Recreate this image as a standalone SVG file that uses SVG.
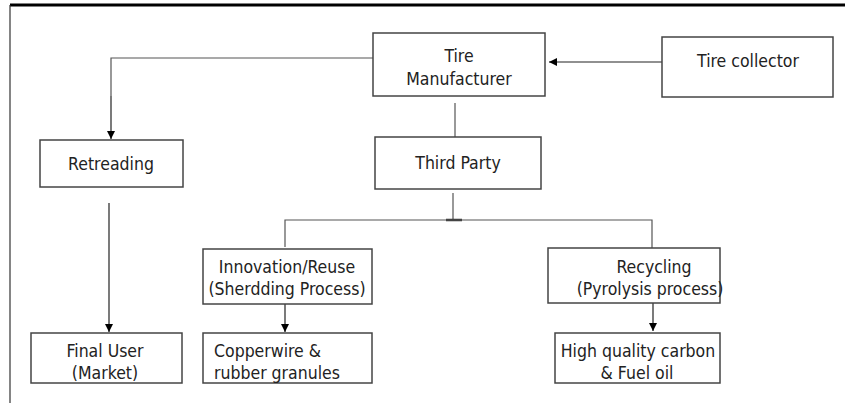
<svg xmlns="http://www.w3.org/2000/svg" width="845" height="403" viewBox="0 0 845 403">
<defs>
<marker id="ah" viewBox="0 0 10 10" refX="10" refY="5" markerWidth="8" markerHeight="8" markerUnits="userSpaceOnUse" orient="auto">
<path d="M0,0 L10,5 L0,10 z" fill="#000"/>
</marker>
<style>
.box{fill:#fff;stroke:#444;stroke-width:1.5}
.t{font-family:"Liberation Sans Narrow","DejaVu Sans Condensed","Liberation Sans",sans-serif;font-size:17.5px;fill:#222;text-anchor:middle}
.ln{fill:none;stroke:#555;stroke-width:1.2}
.ar{fill:none;stroke:#222;stroke-width:1.2;marker-end:url(#ah)}
</style>
</defs>
<rect width="845" height="403" fill="#fff"/>
<g id="frame">
<line x1="10" y1="5" x2="845" y2="5" stroke="#000" stroke-width="3"/>
<line x1="10" y1="5" x2="10" y2="403" stroke="#333" stroke-width="1.2"/>
</g>
<g id="connectors">
<line class="ar" x1="662" y1="62" x2="549" y2="62"/>
<polyline class="ln" points="373,58 111,58 111,96"/>
<line class="ar" x1="111" y1="96" x2="111" y2="139"/>
<line class="ln" x1="455" y1="103" x2="455" y2="137"/>
<line class="ln" x1="453" y1="193" x2="453" y2="220"/>
<line x1="446" y1="220" x2="462" y2="220" stroke="#333" stroke-width="2.5"/>
<polyline class="ln" points="285,247 285,220 652,220 652,248"/>
<line class="ar" x1="109" y1="203" x2="109" y2="332"/>
<line class="ar" x1="285" y1="304" x2="285" y2="332"/>
<line class="ar" x1="653" y1="303" x2="653" y2="331"/>
</g>
<g id="tire-manufacturer">
<rect class="box" x="373" y="33" width="172" height="63"/>
<text class="t" x="459" y="62">Tire</text>
<text class="t" x="459" y="85">Manufacturer</text>
</g>
<g id="tire-collector">
<rect class="box" x="662" y="37" width="171" height="60"/>
<text class="t" x="748" y="67">Tire collector</text>
</g>
<g id="retreading">
<rect class="box" x="40" y="140" width="143" height="47"/>
<text class="t" x="111" y="170">Retreading</text>
</g>
<g id="third-party">
<rect class="box" x="375" y="137" width="166" height="52"/>
<text class="t" x="458" y="169">Third Party</text>
</g>
<g id="innovation">
<rect class="box" x="203" y="249" width="169" height="55"/>
<text class="t" x="287" y="273">Innovation/Reuse</text>
<text class="t" x="287" y="295">(Sherdding Process)</text>
</g>
<g id="recycling">
<rect class="box" x="548" y="248" width="172" height="55"/>
<text class="t" x="654" y="273">Recycling</text>
<text class="t" x="650" y="295">(Pyrolysis process)</text>
</g>
<g id="final-user">
<rect class="box" x="31" y="333" width="151" height="50"/>
<text class="t" x="105" y="357">Final User</text>
<text class="t" x="105" y="379">(Market)</text>
</g>
<g id="copperwire">
<rect class="box" x="203" y="333" width="169" height="50"/>
<text class="t" x="214" y="357" style="text-anchor:start">Copperwire &amp;</text>
<text class="t" x="214" y="379" style="text-anchor:start">rubber granules</text>
</g>
<g id="carbon">
<rect class="box" x="555" y="333" width="165" height="50"/>
<text class="t" x="638" y="357">High quality carbon</text>
<text class="t" x="637" y="379">&amp; Fuel oil</text>
</g>
</svg>
